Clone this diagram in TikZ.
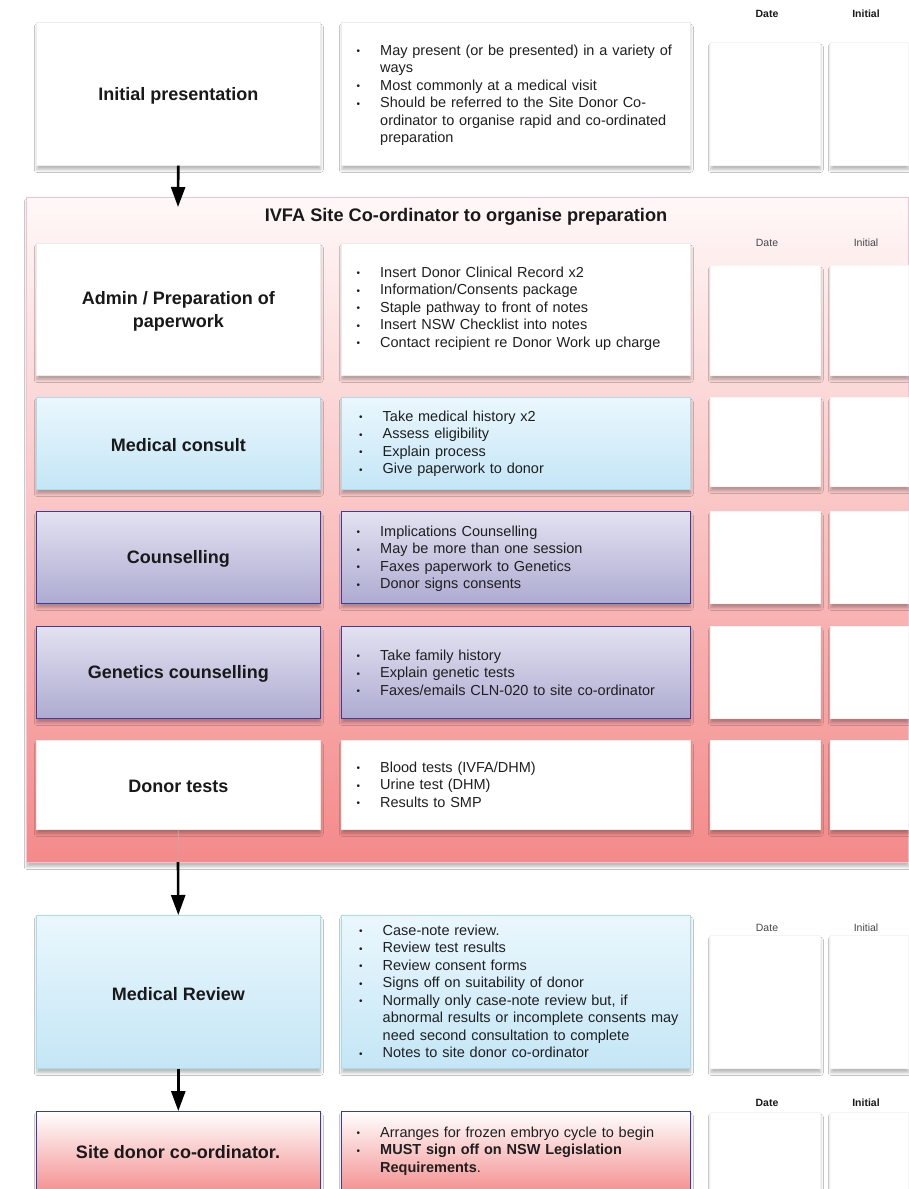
\documentclass[tikz,border=0pt]{standalone}
\usepackage{fontspec}
\setmainfont{Liberation Sans}
\usetikzlibrary{shadows.blur,arrows.meta}
\definecolor{blueTop}{HTML}{EAF7FD}
\definecolor{blueBot}{HTML}{C4E6F6}
\definecolor{blueBorder}{HTML}{A8DCE8}
\definecolor{lavTop}{HTML}{E3E2F1}
\definecolor{lavBot}{HTML}{ADABD1}
\definecolor{lavBorder}{HTML}{3A3AA8}
\definecolor{pinkBot}{HTML}{F38C8C}
\definecolor{contTop}{HTML}{FFF8F8}
\definecolor{contBot}{HTML}{F48A8A}
\definecolor{contBorder}{HTML}{F4C0D8}
\newcommand{\itm}[1]{\hangindent=24pt\hangafter=1\noindent\makebox[24pt][l]{\hspace{0.5pt}\raisebox{0.5pt}{\fontsize{10}{10}\selectfont\textbullet}}\strut#1\par}
\tikzset{
  base/.style={rectangle, anchor=north west, inner sep=0pt, line width=0.6pt,
    blur shadow={shadow blur steps=6, shadow blur radius=2.5pt, shadow xshift=0.5pt, shadow yshift=-4.5pt, shadow opacity=26}},
  whitebox/.style={base, draw=gray!15, fill=white},
  bluebox/.style={base, draw=blueBorder, top color=blueTop, bottom color=blueBot},
  lavbox/.style={base, draw=lavBorder, top color=lavTop, bottom color=lavBot},
  pinkbox/.style={base, draw=lavBorder, top color=white, bottom color=pinkBot},
  datebox/.style={base, draw=gray!8, fill=white, minimum width=110pt},
  initbox/.style={base, draw=gray!8, fill=white, minimum width=78pt},
  lbox/.style={minimum width=284pt},
  rbox/.style={minimum width=349pt},
  title/.style={font=\fontsize{18}{22.5}\selectfont\bfseries, align=center, text=black!90, inner sep=0pt, yshift=-2pt},
  bul/.style={anchor=north west, inner sep=0pt, text width=330pt, align=left,
    font=\fontsize{14.5}{17.5}\selectfont, text=black!88},
  hdrb/.style={font=\fontsize{10.5}{12}\selectfont\bfseries, text=black!90, inner sep=0pt},
  hdr/.style={font=\fontsize{10.5}{12}\selectfont, text=black!72, inner sep=0pt},
  arr/.style={line width=2.6pt, -{Triangle[width=14pt,length=20pt]}}
}
\begin{document}
\begin{tikzpicture}[x=1pt,y=-1pt]
\useasboundingbox[fill=white] (0,0) rectangle (909,1189);

% container
\node[base, draw=contBorder, top color=contTop, bottom color=contBot,
  minimum width=882pt, minimum height=665pt] (cont) at (26,197) {};
\node[title, font=\fontsize{18.2}{22}\selectfont\bfseries] (contT) at (466,215) {IVFA Site Co-ordinator to organise preparation};

% headers
\node[hdrb] (h1d) at (767,14) {Date};
\node[hdrb] (h1i) at (866,14) {Initial};
\node[hdr] (h2d) at (767,243) {Date};
\node[hdr] (h2i) at (866,243) {Initial};
\node[hdr] (h3d) at (767,928) {Date};
\node[hdr] (h3i) at (866,928) {Initial};
\node[hdrb] (h4d) at (767,1103) {Date};
\node[hdrb] (h4i) at (866,1103) {Initial};

% Row 1: initial presentation
\node[whitebox, lbox, minimum height=143pt] (init) at (36,22) {};
\node[whitebox, rbox, minimum height=143pt] (initR) at (341,22) {};
\node[datebox, minimum height=123pt] (initD) at (710,42) {};
\node[initbox, minimum height=123pt] (initI) at (830,42) {};
\node[title] (initT) at (init.center) {Initial presentation};
\node[bul] (initL) at (356,42.75) {%
\itm{May present (or be presented) in a variety of\newline ways}
\itm{Most commonly at a medical visit}
\itm{Should be referred to the Site Donor Co-\newline ordinator to organise rapid and co-ordinated\newline preparation}};

% Row 2: admin
\node[whitebox, lbox, minimum height=132pt] (adm) at (36,243) {};
\node[whitebox, rbox, minimum height=132pt] (admR) at (341,243) {};
\node[datebox, minimum height=110pt] (admD) at (710,265) {};
\node[initbox, minimum height=110pt] (admI) at (830,265) {};
\node[title] (admT) at (adm.center) {Admin / Preparation of\\paperwork};
\node[bul] (admL) at (356,264.75) {%
\itm{Insert Donor Clinical Record x2}
\itm{Information/Consents package}
\itm{Staple pathway to front of notes}
\itm{Insert NSW Checklist into notes}
\itm{Contact recipient re Donor Work up charge}};

% Row 3: medical consult
\node[bluebox, lbox, minimum height=92pt] (med) at (36,397) {};
\node[bluebox, rbox, minimum height=92pt] (medR) at (341,397) {};
\node[datebox, minimum height=89pt] (medD) at (710,397) {};
\node[initbox, minimum height=89pt] (medI) at (830,397) {};
\node[title] (medT) at (med.center) {Medical consult};
\node[bul] (medL) at (358.5,408.75) {%
\itm{Take medical history x2}
\itm{Assess eligibility}
\itm{Explain process}
\itm{Give paperwork to donor}};

% Row 4: counselling
\node[lavbox, lbox, minimum height=92pt] (cou) at (36,511) {};
\node[lavbox, rbox, minimum height=92pt] (couR) at (341,511) {};
\node[datebox, minimum height=92pt] (couD) at (710,511) {};
\node[initbox, minimum height=92pt] (couI) at (830,511) {};
\node[title] (couT) at (cou.center) {Counselling};
\node[bul] (couL) at (356,523.75) {%
\itm{Implications Counselling}
\itm{May be more than one session}
\itm{Faxes paperwork to Genetics}
\itm{Donor signs consents}};

% Row 5: genetics
\node[lavbox, lbox, minimum height=92pt] (gen) at (36,626) {};
\node[lavbox, rbox, minimum height=92pt] (genR) at (341,626) {};
\node[datebox, minimum height=92pt] (genD) at (710,626) {};
\node[initbox, minimum height=92pt] (genI) at (830,626) {};
\node[title] (genT) at (gen.center) {Genetics counselling};
\node[bul] (genL) at (356,647.75) {%
\itm{Take family history}
\itm{Explain genetic tests}
\itm{Faxes/emails CLN-020 to site co-ordinator}};

% Row 6: donor tests
\node[whitebox, lbox, minimum height=89pt] (don) at (36,740) {};
\node[whitebox, rbox, minimum height=89pt] (donR) at (341,740) {};
\node[datebox, minimum height=89pt] (donD) at (710,740) {};
\node[initbox, minimum height=89pt] (donI) at (830,740) {};
\node[title] (donT) at (don.center) {Donor tests};
\node[bul] (donL) at (356,759.75) {%
\itm{Blood tests (IVFA/DHM)}
\itm{Urine test (DHM)}
\itm{Results to SMP}};

% Row 7: medical review
\node[bluebox, lbox, minimum height=153pt] (rev) at (36,915) {};
\node[bluebox, rbox, minimum height=153pt] (revR) at (341,915) {};
\node[datebox, minimum height=133pt] (revD) at (710,935) {};
\node[initbox, minimum height=133pt] (revI) at (830,935) {};
\node[title] (revT) at (rev.center) {Medical Review};
\node[bul] (revL) at (358.5,922.75) {%
\itm{Case-note review.}
\itm{Review test results}
\itm{Review consent forms}
\itm{Signs off on suitability of donor}
\itm{Normally only case-note review but, if\newline abnormal results or incomplete consents may\newline need second consultation to complete}
\itm{Notes to site donor co-ordinator}};

% Row 8: site donor co-ordinator
\node[pinkbox, lbox, minimum height=84pt] (sit) at (36,1111) {};
\node[pinkbox, rbox, minimum height=84pt] (sitR) at (341,1111) {};
\node[datebox, minimum height=80pt] (sitD) at (710,1112) {};
\node[initbox, minimum height=80pt] (sitI) at (830,1112) {};
\node[title] (sitT) at (178,1150) {Site donor co-ordinator.};
\node[bul] (sitL) at (356,1124.75) {%
\itm{Arranges for frozen embryo cycle to begin}
\itm{\textbf{MUST sign off on NSW Legislation\newline Requirements}.}};

% connectors
\coordinate (a1) at (178,207);
\coordinate (a2) at (178,862);
\draw[arr] (init.south) -- (a1);
\draw[gray!60, line width=0.6pt] (don.south) -- (a2);
\draw[arr] (a2) -- (rev.north);
\draw[arr] (rev.south) -- (sit.north);
\end{tikzpicture}
\end{document}
